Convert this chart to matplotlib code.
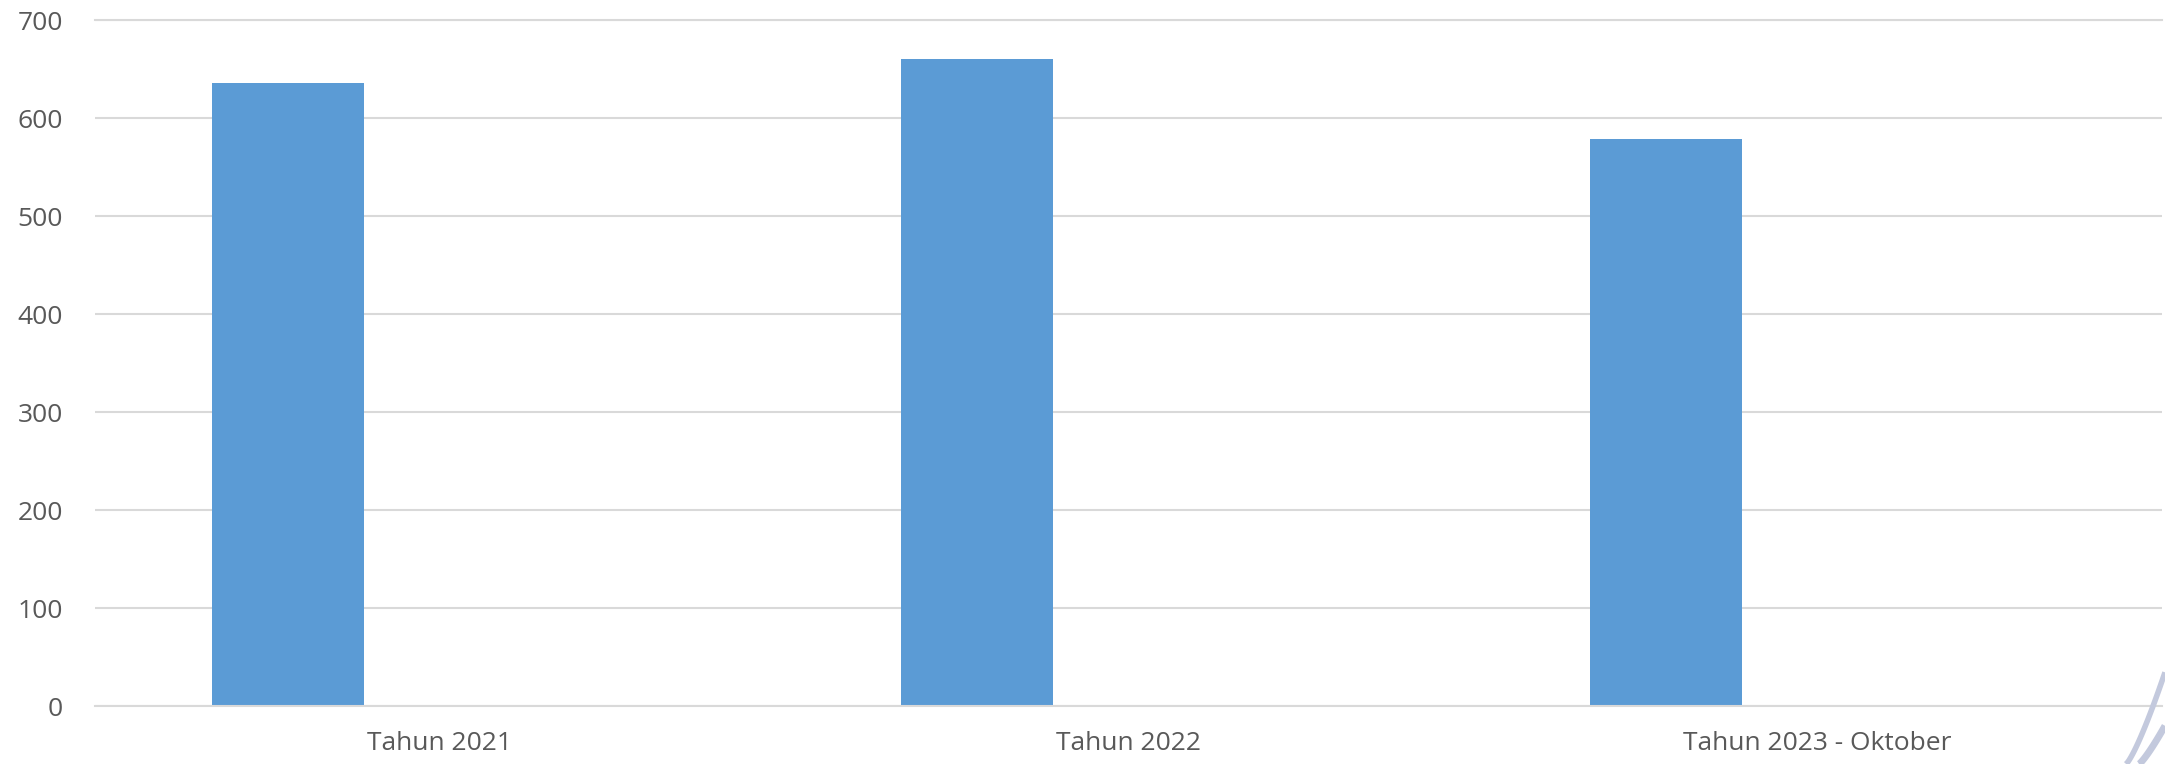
import matplotlib.pyplot as plt
from matplotlib.lines import Line2D
import numpy as np

# data
categories = ['Tahun 2021', 'Tahun 2022', 'Tahun 2023 - Oktober']
series_1 = [636, 660, 579]
series_2 = [1, 0, 0]
series_3 = [0, 0, 0]
y_ticks = [0, 100, 200, 300, 400, 500, 600, 700]

plt.rcParams['font.family'] = ['Open Sans', 'DejaVu Sans']

fig = plt.figure(figsize=(21.65, 7.64), dpi=100)
ax = fig.add_axes([0.0439, 0.0759, 0.9547, 0.8979])

x = np.arange(len(categories))
w = 0.22
ax.bar(x - w, series_1, w, color='#5B9BD5')
ax.bar(x, series_2, w, color='#ED7D31')
ax.bar(x + w, series_3, w, color='#A5A5A5')

ax.set_xlim(-0.5, 2.5)
ax.set_ylim(0, 700)
ax.set_yticks(y_ticks)
ax.set_xticks(x)
ax.set_xticklabels(categories)

ax.set_axisbelow(True)
ax.yaxis.grid(True, color='#d9d9d9', linewidth=1.5)
for s in ['left', 'right']:
    ax.spines[s].set_visible(False)
for s in ['top', 'bottom']:
    ax.spines[s].set_color('#d9d9d9')
    ax.spines[s].set_linewidth(1.5)

ax.tick_params(axis='both', length=0, labelsize=19, labelcolor='#595959')
ax.tick_params(axis='y', pad=23)
ax.tick_params(axis='x', pad=18)

# faint decorative strokes in the bottom-right corner
t = np.linspace(0, 1, 50)
fig.add_artist(Line2D(0.9820 + 0.018 * t ** 0.8, 0.0 + 0.12 * t,
                      color='#c3c9dd', linewidth=4, transform=fig.transFigure,
                      solid_capstyle='butt'))
fig.add_artist(Line2D(0.9880 + 0.012 * t, 0.0 + 0.05 * t ** 1.2,
                      color='#c3c9dd', linewidth=5, transform=fig.transFigure,
                      solid_capstyle='butt'))

fig.savefig('out.png', dpi=100)
